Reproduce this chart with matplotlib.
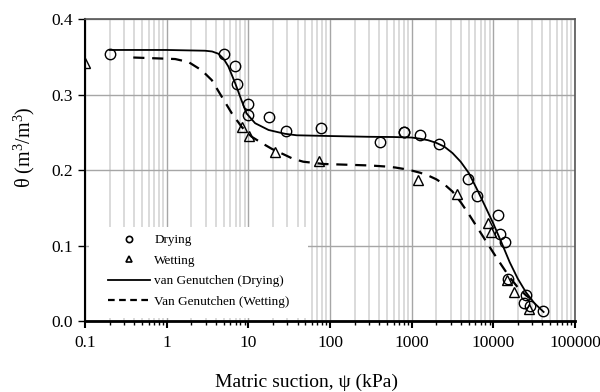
import matplotlib
matplotlib.use("Agg")
import matplotlib.pyplot as plt
from matplotlib.lines import Line2D
from matplotlib.patches import Rectangle
from matplotlib.ticker import LogLocator, FixedLocator, NullFormatter

plt.rcParams['font.family'] = ['Liberation Serif', 'DejaVu Serif']
plt.rcParams['mathtext.fontset'] = 'custom'
plt.rcParams['mathtext.rm'] = 'Liberation Serif'

# measured points (suction in kPa, volumetric water content)
dry_psi = [0.2, 5.05, 6.95, 7.2, 10.0, 9.8, 18.1, 29, 78, 412, 796, 800, 1275, 2140,
           4840, 6310, 11400, 12200, 13800, 15000, 25200, 23500, 28400, 40200]
dry_theta = [0.353, 0.353, 0.338, 0.314, 0.288, 0.273, 0.270, 0.252, 0.255, 0.237, 0.250,
             0.251, 0.246, 0.235, 0.188, 0.166, 0.141, 0.115, 0.105, 0.055, 0.035, 0.024,
             0.020, 0.013]

wet_psi = [0.1, 8.3, 10.3, 21.3, 72.4, 1195, 3590, 8600, 9380, 14700, 17700, 27100]
wet_theta = [0.342, 0.257, 0.245, 0.224, 0.212, 0.187, 0.168, 0.130, 0.118, 0.054, 0.038, 0.016]

# van Genuchten fitted curves
vg_dry_psi = [0.2, 1.0, 2.95, 3.6, 4.3, 5.0, 5.7, 6.9, 8.2, 9.5, 12.1, 17.7, 28, 39, 100, 300,
              600, 1000, 1260, 1585, 2000, 2510, 3160, 3980, 5010, 6310, 7940, 10000, 12590,
              15850, 19950, 25120, 31620, 41300]
vg_dry_theta = [0.359, 0.359, 0.358, 0.357, 0.354, 0.347, 0.337, 0.315, 0.293, 0.275, 0.262,
                0.253, 0.248, 0.246, 0.245, 0.244, 0.2437, 0.243, 0.2415, 0.2395, 0.236, 0.231,
                0.2225, 0.211, 0.196, 0.1745, 0.152, 0.129, 0.104, 0.078, 0.056, 0.038, 0.024,
                0.012]

vg_wet_psi = [0.39, 1.27, 1.85, 2.69, 3.57, 4.73, 6.28, 8.3, 11.0, 15.0, 19.4, 28, 35, 47, 83,
              310, 500, 631, 794, 1000, 1259, 1585, 1995, 2512, 3162, 3981, 5012, 6310, 7943,
              10000, 12589, 15849, 19953, 25119, 28184]
vg_wet_theta = [0.349, 0.347, 0.343, 0.332, 0.319, 0.297, 0.275, 0.257, 0.244, 0.235, 0.228,
                0.220, 0.215, 0.211, 0.208, 0.206, 0.2045, 0.2033, 0.2015, 0.1993, 0.1965,
                0.1928, 0.1878, 0.181, 0.1715, 0.1575, 0.1415, 0.1245, 0.1075, 0.0905, 0.074,
                0.058, 0.0445, 0.034, 0.030]

x_ticks = [0.1, 1, 10, 100, 1000, 10000, 100000]
x_tick_labels = ['0.1', '1', '10', '100', '1000', '10000', '100000']
y_ticks = [0.0, 0.1, 0.2, 0.3, 0.4]

fig = plt.figure(figsize=(6, 3.92), dpi=100)
ax = fig.add_axes([0.1417, 0.1811, 0.8166, 0.7704])

ax.set_xscale('log')
ax.set_xlim(0.1, 100000)
ax.set_ylim(0, 0.4)

ax.xaxis.set_major_locator(FixedLocator(x_ticks))
ax.set_xticklabels(x_tick_labels)
ax.xaxis.set_minor_locator(LogLocator(base=10, subs=range(2, 10), numticks=20))
ax.xaxis.set_minor_formatter(NullFormatter())
ax.set_yticks(y_ticks)
ax.set_yticklabels([f'{v:.1f}' for v in y_ticks])

ax.grid(True, which='minor', axis='x', color='#d4d4d4', linewidth=1.2, zorder=0)
ax.grid(True, which='major', axis='x', color='#a6a6a6', linewidth=1.0, zorder=0)
ax.grid(True, which='major', axis='y', color='#a6a6a6', linewidth=1.0, zorder=0)
ax.set_axisbelow(True)

# white panel behind the legend hides the grid there
ax.add_patch(Rectangle((0.008, 0.01), 0.447, 0.301, transform=ax.transAxes,
                       facecolor='white', edgecolor='none', zorder=1))

ax.plot(vg_dry_psi, vg_dry_theta, color='black', linewidth=1.3, zorder=3)
ax.plot(vg_wet_psi, vg_wet_theta, color='black', linewidth=1.6, linestyle=(0, (5, 3.5)), zorder=3)
ax.plot(dry_psi, dry_theta, linestyle='none', marker='o', markersize=7.5,
        markerfacecolor='none', markeredgecolor='black', markeredgewidth=1.0, zorder=4)
ax.plot(wet_psi, wet_theta, linestyle='none', marker='^', markersize=7.5,
        markerfacecolor='none', markeredgecolor='black', markeredgewidth=1.0, zorder=4)

ax.spines['left'].set_color('black')
ax.spines['left'].set_linewidth(1.5)
ax.spines['bottom'].set_color('black')
ax.spines['bottom'].set_linewidth(2.0)
for side in ['top', 'right']:
    ax.spines[side].set_color('#555555')
    ax.spines[side].set_linewidth(1.2)

ax.tick_params(axis='both', which='major', direction='out', length=5, width=1,
               labelsize=12.5, pad=4)
ax.tick_params(axis='x', which='minor', direction='out', length=3, width=1)
ax.tick_params(axis='x', which='major', length=5, width=1.5, pad=5)

ax.set_xlabel('Matric suction, ψ (kPa)', fontsize=14)
ax.xaxis.set_label_coords(0.452, -0.175)
ax.set_ylabel(r'θ (m$^3$/m$^3$)', fontsize=14.5)
ax.yaxis.set_label_coords(-0.097, 0.574)

handles = [
    Line2D([], [], linestyle='none', marker='o', markersize=4.5, markerfacecolor='none',
           markeredgecolor='black', markeredgewidth=1.2),
    Line2D([], [], linestyle='none', marker='^', markersize=4.5, markerfacecolor='none',
           markeredgecolor='black', markeredgewidth=1.2),
    Line2D([], [], color='black', linewidth=1.3),
    Line2D([], [], color='black', linewidth=1.6, linestyle=(0, (3, 2))),
]
labels = ['Drying', 'Wetting', 'van Genutchen (Drying)', 'Van Genutchen (Wetting)']
leg = ax.legend(handles, labels, loc='upper left', bbox_to_anchor=(0.047, 0.288),
                fontsize=9.5, frameon=False, handlelength=3.2,
                handletextpad=0.3, labelspacing=0.63, borderpad=0, borderaxespad=0)
leg.set_zorder(5)

fig.savefig('out.png', dpi=100)
